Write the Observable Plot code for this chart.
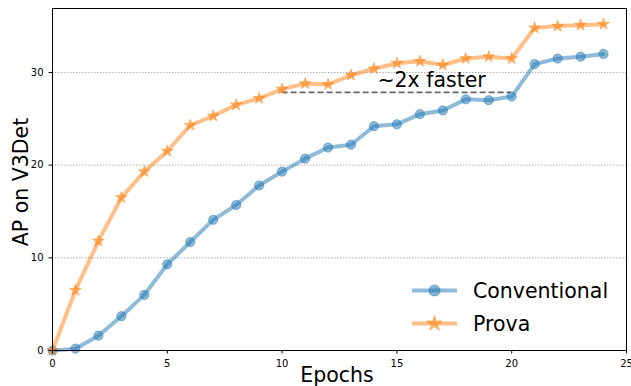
<!DOCTYPE html>
<html>
<head>
<meta charset="utf-8">
<script src="https://cdn.jsdelivr.net/npm/d3@7"></script>
<script src="https://cdn.jsdelivr.net/npm/@observablehq/plot@0.6"></script>
<style>
  html, body { margin: 0; padding: 0; background: #fff; }
  #chart { position: relative; width: 631px; height: 386px; }
</style>
</head>
<body>
<div id="chart"></div>
<script>
const epochs = d3.range(0, 25);
const conventional = [0, 0.2, 1.6, 3.7, 6.0, 9.3, 11.7, 14.1, 15.7, 17.8, 19.3, 20.7, 21.9, 22.2, 24.2, 24.4, 25.5, 25.9, 27.1, 27.0, 27.4, 30.9, 31.5, 31.7, 32.0];
const prova = [0, 6.5, 11.8, 16.5, 19.3, 21.5, 24.3, 25.3, 26.5, 27.2, 28.2, 28.8, 28.7, 29.7, 30.4, 31.0, 31.2, 30.8, 31.5, 31.7, 31.5, 34.8, 35.0, 35.1, 35.2];
const seriesNames = ["Conventional", "Prova"];
const seriesColors = ["#1f77b4", "#ff7f0e"];
const xTicks = [0, 5, 10, 15, 20, 25];
const yTicks = [0, 10, 20, 30];
const annotation = [{x1: 10, x2: 20, y: 27.85, label: "~2x faster", tx: 14.15, ty: 29.1}];

const convData = epochs.map((e, i) => ({epoch: e, ap: conventional[i]}));
const provaData = epochs.map((e, i) => ({epoch: e, ap: prova[i]}));

const font = "DejaVu Sans, sans-serif";
const big = 20.5;

const plot = Plot.plot({
  width: 631,
  height: 386,
  marginLeft: 52,
  marginRight: 5,
  marginTop: 8,
  marginBottom: 36,
  style: {fontFamily: font, background: "#fff", overflow: "visible"},
  x: {domain: [0, 25], ticks: xTicks, label: null, tickSize: 3.5, tickPadding: 4},
  y: {domain: [0, 36.9], ticks: yTicks, label: null, tickSize: 3.5, tickPadding: 3},
  marks: [
    Plot.gridY(yTicks.filter(d => d > 0), {stroke: "#999", strokeOpacity: 1, strokeWidth: 0.8, strokeDasharray: "1.5,1.5"}),
    Plot.ruleY(annotation, {x1: "x1", x2: "x2", y: "y", stroke: "#666", strokeWidth: 1.8, strokeDasharray: "6,3"}),
    Plot.text(annotation, {x: "tx", y: "ty", text: "label", textAnchor: "start", lineAnchor: "middle", fontSize: big, fill: "#000"}),
    Plot.line(convData, {x: "epoch", y: "ap", stroke: seriesColors[0], strokeOpacity: 0.5, strokeWidth: 4}),
    Plot.dot(convData, {x: "epoch", y: "ap", r: 4.6, fill: seriesColors[0], fillOpacity: 0.5, stroke: seriesColors[0], strokeOpacity: 0.5, strokeWidth: 1}),
    Plot.line(provaData, {x: "epoch", y: "ap", stroke: seriesColors[1], strokeOpacity: 0.5, strokeWidth: 4}),
    Plot.dot(provaData, {x: "epoch", y: "ap", symbol: "star", r: 3.6, fill: seriesColors[1], fillOpacity: 0.55, stroke: seriesColors[1], strokeOpacity: 0.5, strokeWidth: 1}),
    Plot.frame({stroke: "#000", strokeWidth: 1}),
    Plot.axisX({ticks: xTicks, tickSize: 3.5, fontSize: 10, label: null, fill: "#000"}),
    Plot.axisY({ticks: yTicks, tickSize: 3.5, fontSize: 10, label: null, fill: "#000"})
  ]
});

document.getElementById("chart").appendChild(plot);

// Axis titles and legend
const svg = d3.select(plot);
svg.append("text")
  .attr("x", 337).attr("y", 382)
  .attr("text-anchor", "middle")
  .style("font-family", font).style("font-size", big + "px").attr("fill", "#000")
  .text("Epochs");
svg.append("text")
  .attr("transform", "translate(28,182) rotate(-90)")
  .attr("text-anchor", "middle")
  .style("font-family", font).style("font-size", big + "px").attr("fill", "#000")
  .text("AP on V3Det");

const legend = svg.append("g");
seriesNames.forEach((name, i) => {
  const cy = 290.5 + i * 33;
  const g = legend.append("g");
  g.append("line").attr("x1", 412).attr("x2", 457).attr("y1", cy).attr("y2", cy)
    .attr("stroke", seriesColors[i]).attr("stroke-opacity", 0.5).attr("stroke-width", 4);
  const sym = i === 0 ? d3.symbolCircle : d3.symbolStar;
  const size = i === 0 ? Math.PI * 5.5 * 5.5 : 72;
  g.append("path").attr("d", d3.symbol(sym, size)()).attr("transform", `translate(434.5,${cy})`)
    .attr("fill", seriesColors[i]).attr("fill-opacity", 0.55)
    .attr("stroke", seriesColors[i]).attr("stroke-opacity", 0.5);
  g.append("text").attr("x", 473).attr("y", cy).attr("dy", "0.35em")
    .attr("text-anchor", "start")
    .style("font-family", font).style("font-size", big + "px").attr("fill", "#000")
    .text(name);
});
</script>
</body>
</html>
